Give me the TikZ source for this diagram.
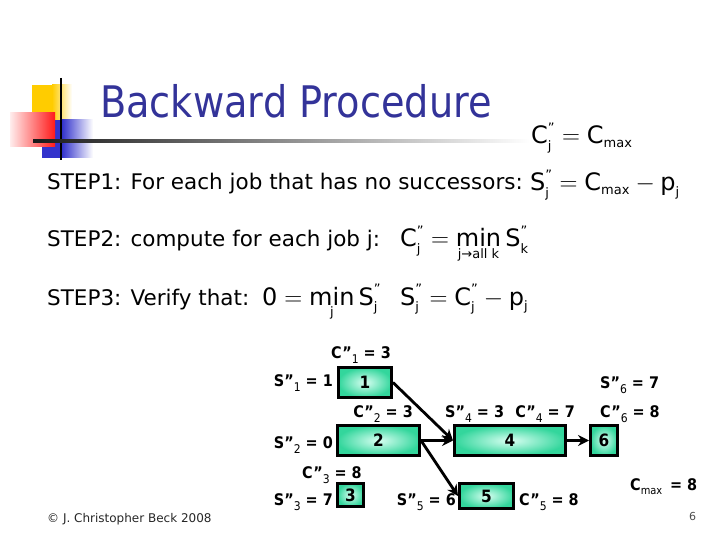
\documentclass[tikz,border=0pt]{standalone}
\usepackage{fontspec}
\setmainfont{DejaVu Sans}
\newfontfamily\titlefont{DejaVu Sans}[FakeStretch=0.88]
\newfontfamily\tagfont{DejaVu Sans}[FakeStretch=0.9]
\usetikzlibrary{arrows.meta,positioning}
\definecolor{bptitle}{HTML}{333399}
\definecolor{bpgreen}{HTML}{33D69C}
\definecolor{bppale}{HTML}{D9FFF2}
\definecolor{bpyellow}{HTML}{FFCC00}
\definecolor{bpred}{HTML}{FF1A1A}
\definecolor{bpblue}{HTML}{3333CC}
% formula pieces
\newcommand\tx[1]{\hbox{#1}}
\newcommand\sbj[1]{\hbox{\fontsize{13}{13}\selectfont #1}}
\newcommand\spr{\hbox{\fontsize{13}{13}\selectfont''}}
% graph labels: letter, index, value
\newcommand\lbl[3]{#1”\raisebox{-0.35em}{\mdseries\fontsize{12}{12}\selectfont #2} = #3}

\begin{document}
\begin{tikzpicture}[x=1pt,y=-1pt,
  steptext/.style={anchor=base west,inner sep=0pt,font=\fontsize{21.5}{24}\selectfont},
  formula/.style={anchor=base west,inner sep=0pt,font=\fontsize{24}{26}\selectfont},
  jobbox/.style={draw=black,line width=3pt,inner color=bppale,outer color=bpgreen,
    inner sep=0pt,font=\tagfont\bfseries\fontsize{17}{17}\selectfont},
  tag/.style={inner sep=0pt,font=\tagfont\bfseries\fontsize{16}{16}\selectfont},
  link/.style={-{Stealth[length=11pt,width=11pt]},line width=2.8pt}]
  \useasboundingbox (0,0) rectangle (720,540);
  % logo squares and rules
  \fill[bpyellow] (32,85) rectangle (52,120);
  \shade[left color=bpyellow,right color=white] (52,85) rectangle (72,120);
  \fill[bpblue] (42,120) rectangle (62,158);
  \shade[left color=bpblue,right color=white] (62,120) rectangle (93,158);
  \shade[left color=bpred!8,right color=bpred] (10,113) rectangle (55,147);
  \draw[line width=2pt] (61,78) -- (61,160);
  \shade[left color=black!90,right color=white] (33,140) rectangle (530,142.5);
  % title
  \node[anchor=base west,inner sep=0pt,text=bptitle,font=\titlefont\fontsize{43.5}{48}\selectfont]
    (title) at (100,118) {Backward Procedure};
  % steps
  \node[formula] (f0) at (531,144) {$\tx{C}^{\spr}_{\sbj{j}} = \tx{C}_{\sbj{max}}$};
  \node[steptext] (st1) at (47,190) {STEP1: For each job that has no successors:};
  \node[formula] (f1) at (530,191) {$\tx{S}^{\spr}_{\sbj{j}} = \tx{C}_{\sbj{max}} - \tx{p}_{\sbj{j}}$};
  \node[steptext] (st2) at (47,247) {STEP2: compute for each job j:};
  \node[formula] (f2) at (400,247) {$\tx{C}^{\spr}_{\sbj{j}} = \mathop{\tx{min}}\limits_{\sbj{j→all k}} \tx{S}^{\spr}_{\sbj{k}}$};
  \node[steptext] (st3) at (47,305) {STEP3: Verify that:};
  \node[formula] (f3) at (262,305) {$\tx{0} = \mathop{\tx{min}}\limits_{\sbj{j}} \tx{S}^{\spr}_{\sbj{j}}$};
  \node[formula] (f4) at (400,305) {$\tx{S}^{\spr}_{\sbj{j}} = \tx{C}^{\spr}_{\sbj{j}} - \tx{p}_{\sbj{j}}$};
  % jobs
  \node[jobbox,minimum width=53pt,minimum height=30pt] (b1) at (365,382.5) {1};
  \node[jobbox,minimum width=82pt,minimum height=30pt] (b2) at (378.5,440.5) {2};
  \node[jobbox,minimum width=26pt,minimum height=23pt] (b3) at (350.5,495) {3};
  \node[jobbox,minimum width=111pt,minimum height=30pt] (b4) at (510,440.5) {4};
  \node[jobbox,minimum width=54pt,minimum height=25pt] (b5) at (486.5,496) {5};
  \node[jobbox,minimum width=27pt,minimum height=30pt] (b6) at (604,440.5) {6};
  \draw[link] (b1.east) -- (b4.west);
  \draw[link] (b2.east) -- (b4.west);
  \draw[link] (b2.east) -- (b5.west);
  \draw[link] (b4.east) -- (b6.west);
  % start and completion times
  \node[tag,anchor=base] (c1) at (361,358) {\lbl{C}{1}{3}};
  \node[tag,anchor=base east] (s1) at (333,386) {\lbl{S}{1}{1}};
  \node[tag,anchor=base east] (c2) at (413,417) {\lbl{C}{2}{3}};
  \node[tag,anchor=base east] (s2) at (333,448) {\lbl{S}{2}{0}};
  \node[tag,anchor=base west] (c3) at (302,478) {\lbl{C}{3}{8}};
  \node[tag,anchor=base east] (s3) at (333,505) {\lbl{S}{3}{7}};
  \node[tag,anchor=base west] (s4) at (445,417) {\lbl{S}{4}{3}};
  \node[tag,anchor=base east] (c4) at (575,417) {\lbl{C}{4}{7}};
  \node[tag,anchor=base east] (s5) at (456,505) {\lbl{S}{5}{6}};
  \node[tag,anchor=base west] (c5) at (519,505) {\lbl{C}{5}{8}};
  \node[tag,anchor=base west] (s6) at (600,388) {\lbl{S}{6}{7}};
  \node[tag,anchor=base west] (c6) at (600,417) {\lbl{C}{6}{8}};
  \node[tag,anchor=base west] (cmax) at (630,490)
    {C\raisebox{-0.3em}{\mdseries\fontsize{11}{11}\selectfont max}\, = 8};
  % footer
  \node[anchor=base west,inner sep=0pt,text=black!85,font=\fontsize{12}{12}\selectfont]
    (copy) at (47,522) {© J. Christopher Beck 2008};
  \node[anchor=base west,inner sep=0pt,text=black!70,font=\fontsize{11}{11}\selectfont]
    (pgno) at (689,520) {6};
\end{tikzpicture}
\end{document}
